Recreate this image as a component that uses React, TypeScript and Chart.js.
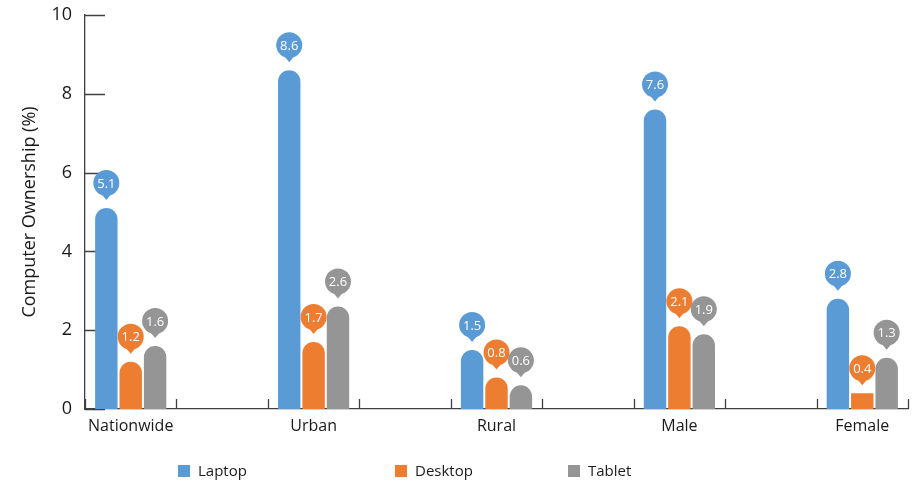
import React, { useEffect, useRef } from "react";
import { Chart, registerables } from "chart.js";

Chart.register(...registerables);

const categories = ["Nationwide", "Urban", "Rural", "Male", "Female"];
const laptop = [5.1, 8.6, 1.5, 7.6, 2.8];
const desktop = [1.2, 1.7, 0.8, 2.1, 0.4];
const tablet = [1.6, 2.6, 0.6, 1.9, 1.3];
const seriesNames = ["Laptop", "Desktop", "Tablet"];
const seriesColors = ["#5B9BD5", "#ED7D31", "#959595"];
const yTicks = [0, 2, 4, 6, 8, 10];

const FONT = "'Open Sans', 'Noto Sans', sans-serif";
const AXIS_COLOR = "#404040";
const TEXT_COLOR = "#1a1a1a";

// category slots: each category followed by an empty spacer slot
const slotLabels: string[] = categories.flatMap((c, i) => (i < categories.length - 1 ? [c, ""] : [c]));
const spread = (vals: number[]) => vals.flatMap((v, i) => (i < vals.length - 1 ? [v, null] : [v]));

const innerTicks = {
  id: "innerTicks",
  beforeDatasetsDraw(chart: any) {
    const { ctx, chartArea } = chart;
    const y = chart.scales.y;
    ctx.save();
    ctx.strokeStyle = AXIS_COLOR;
    ctx.lineWidth = 1.3;
    ctx.beginPath();
    yTicks.forEach((v) => {
      const py = Math.round(y.getPixelForValue(v)) + 0.5;
      ctx.moveTo(chartArea.left, py);
      ctx.lineTo(chartArea.left + 20, py);
    });
    const n = slotLabels.length;
    for (let i = 0; i <= n; i++) {
      const px = Math.round(chartArea.left + (i * (chartArea.right - chartArea.left)) / n) + 0.5;
      ctx.moveTo(px, chartArea.bottom);
      ctx.lineTo(px, chartArea.bottom - 10);
    }
    ctx.stroke();
    ctx.restore();
  },
};

const balloons = {
  id: "balloons",
  afterDatasetsDraw(chart: any) {
    const { ctx } = chart;
    ctx.save();
    chart.data.datasets.forEach((ds: any, di: number) => {
      const meta = chart.getDatasetMeta(di);
      meta.data.forEach((el: any, idx: number) => {
        const v = ds.data[idx];
        if (v === null || v === undefined) return;
        const cx = el.x;
        const cy = el.y - 25;
        const r = 13;
        ctx.fillStyle = ds.backgroundColor;
        ctx.beginPath();
        ctx.arc(cx, cy, r, 0, Math.PI * 2);
        ctx.fill();
        ctx.beginPath();
        ctx.moveTo(cx - 5, cy + r - 2);
        ctx.lineTo(cx + 5, cy + r - 2);
        ctx.lineTo(cx, cy + r + 4);
        ctx.closePath();
        ctx.fill();
        ctx.fillStyle = "#ffffff";
        ctx.font = `13px ${FONT}`;
        ctx.textAlign = "center";
        ctx.textBaseline = "middle";
        ctx.fillText(v.toFixed(1), cx, cy + 1);
      });
    });
    ctx.restore();
  },
};

const LEGEND_X = [178, 395, 568];
const LEGEND_Y = 471;

const customLegend = {
  id: "customLegend",
  afterDraw(chart: any) {
    const { ctx } = chart;
    ctx.save();
    chart.data.datasets.forEach((ds: any, i: number) => {
      const x = LEGEND_X[i];
      ctx.fillStyle = ds.backgroundColor;
      ctx.fillRect(x, LEGEND_Y - 6, 12, 12);
      ctx.fillStyle = TEXT_COLOR;
      ctx.font = `15px ${FONT}`;
      ctx.textAlign = "left";
      ctx.textBaseline = "middle";
      ctx.fillText(ds.label, x + 20, LEGEND_Y + 1);
    });
    ctx.restore();
  },
};

export default function App() {
  const canvasRef = useRef<HTMLCanvasElement | null>(null);

  useEffect(() => {
    if (!canvasRef.current) return;
    const seriesData = [laptop, desktop, tablet];
    const chart = new Chart(canvasRef.current, {
      type: "bar",
      data: {
        labels: slotLabels,
        datasets: seriesNames.map((name, i) => ({
          label: name,
          data: spread(seriesData[i]),
          backgroundColor: seriesColors[i],
          borderSkipped: "start",
          borderRadius: (c: any) =>
            (c.raw ?? 0) < 0.5 ? 0 : { topLeft: 20, topRight: 20, bottomLeft: 0, bottomRight: 0 },
          categoryPercentage: 0.8,
          barPercentage: 0.92,
          skipNull: true,
        })),
      },
      options: {
        animation: false,
        responsive: true,
        maintainAspectRatio: false,
        events: [],
        layout: { padding: { left: 8, right: 4, top: 15, bottom: 35 } },
        plugins: {
          legend: { display: false },
          tooltip: { enabled: false },
        },
        scales: {
          x: {
            type: "category",
            offset: true,
            grid: { display: false, offset: true, drawTicks: false },
            border: { display: true, color: AXIS_COLOR, width: 1.3 },
            ticks: {
              autoSkip: false,
              maxRotation: 0,
              color: TEXT_COLOR,
              font: { family: FONT, size: 16 },
              padding: 8,
            },
            afterFit: (s: any) => {
              s.height = 40;
              s.paddingLeft = 0;
              s.paddingRight = 0;
            },
          },
          y: {
            min: 0,
            max: 10,
            ticks: {
              stepSize: 2,
              color: TEXT_COLOR,
              font: { family: FONT, size: 18 },
              padding: 13,
            },
            grid: { display: false, drawTicks: false },
            border: { display: true, color: AXIS_COLOR, width: 1.3 },
            title: {
              display: true,
              text: "Computer Ownership (%)",
              color: TEXT_COLOR,
              font: { family: FONT, size: 18 },
              padding: { top: 11, bottom: 8 },
            },
            afterFit: (s: any) => {
              s.width = 77;
              s.paddingTop = 0;
              s.paddingBottom = 0;
            },
          },
        },
      },
      plugins: [innerTicks, balloons, customLegend],
    });
    return () => chart.destroy();
  }, []);

  return (
    <div style={{ position: "fixed", left: 0, top: 0, width: 912, height: 484, background: "#fff" }}>
      <canvas ref={canvasRef} />
    </div>
  );
}
